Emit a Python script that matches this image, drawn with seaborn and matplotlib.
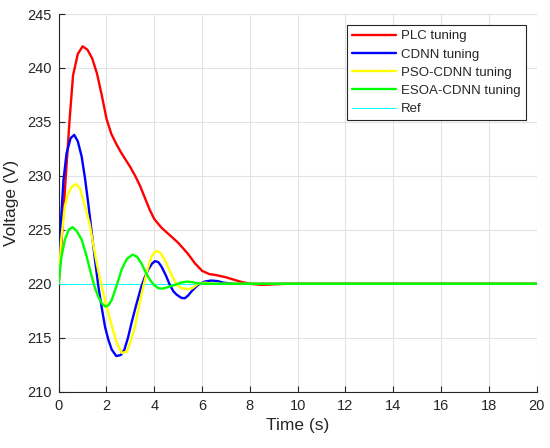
import numpy as np
import pandas as pd
import matplotlib
matplotlib.use("Agg")
import matplotlib.pyplot as plt
import seaborn as sns

# ---- data ----
t_plc = [0, 0.08, 0.15, 0.3, 0.45, 0.6, 0.8, 1.0, 1.2, 1.4, 1.6, 1.8, 2.0, 2.2, 2.4, 2.6,
         2.8, 3.0, 3.2, 3.4, 3.6, 3.8, 4.0, 4.3, 4.6, 5.0, 5.4, 5.7, 6.0, 6.3, 6.6, 7.0,
         7.3, 7.6, 8.0, 8.5, 9.0, 9.5, 20]
v_plc = [220, 222.5, 225, 230, 235, 239.3, 241.3, 242.0, 241.7, 240.9, 239.5, 237.5,
         235.3, 233.9, 233.0, 232.2, 231.5, 230.8, 230.0, 229.1, 228.0, 226.9, 226.0,
         225.2, 224.6, 223.8, 222.8, 221.9, 221.2, 220.9, 220.8, 220.6, 220.4, 220.2,
         220.0, 219.9, 219.95, 220.0, 220.0]

t_cdnn = [0, 0.1, 0.2, 0.33, 0.5, 0.65, 0.8, 0.96, 1.1, 1.24, 1.38, 1.52, 1.66, 1.8,
          1.94, 2.08, 2.22, 2.41, 2.6, 2.75, 2.9, 3.05, 3.25, 3.46, 3.6, 3.74, 3.9, 4.03,
          4.17, 4.3, 4.48, 4.65, 4.8, 4.93, 5.13, 5.27, 5.41, 5.6, 5.83, 6.1, 6.38, 6.65,
          6.9, 7.3, 20]
v_cdnn = [220, 226.0, 229.6, 232.1, 233.5, 233.8, 233.2, 231.8, 229.8, 227.4, 224.8,
          222.2, 219.75, 217.8, 216.0, 214.8, 213.9, 213.3, 213.4, 213.9, 215.0, 216.4,
          218.1, 219.75, 220.6, 221.3, 221.85, 222.1, 222.0, 221.6, 220.8, 219.9, 219.3,
          219.0, 218.7, 218.65, 218.9, 219.4, 219.9, 220.2, 220.3, 220.25, 220.1, 220.0,
          220.0]

t_pso = [0, 0.1, 0.26, 0.4, 0.55, 0.73, 0.9, 1.1, 1.3, 1.45, 1.6, 1.8, 1.98, 2.15, 2.3,
         2.43, 2.64, 2.85, 3.0, 3.19, 3.35, 3.54, 3.7, 3.88, 4.0, 4.12, 4.28, 4.44, 4.6,
         4.79, 4.95, 5.14, 5.42, 5.6, 5.83, 6.1, 6.5, 20]
v_pso = [220, 224.0, 227.2, 228.4, 229.0, 229.25, 228.8, 227.2, 225.5, 223.6, 221.8,
         219.75, 218.1, 216.7, 215.5, 214.5, 213.6, 213.7, 214.6, 216.0, 217.8, 219.75,
         221.2, 222.5, 222.9, 223.05, 222.8, 222.2, 221.4, 220.5, 219.9, 219.6, 219.5,
         219.6, 220.0, 220.1, 220.0, 220.0]

t_esoa = [0, 0.1, 0.26, 0.42, 0.58, 0.75, 0.96, 1.15, 1.38, 1.52, 1.66, 1.8, 1.94, 2.08,
          2.22, 2.42, 2.63, 2.85, 3.09, 3.28, 3.46, 3.63, 3.81, 3.98, 4.16, 4.3, 4.44,
          4.65, 4.86, 5.1, 5.35, 5.6, 5.8, 6.2, 20]
v_esoa = [220, 222.3, 224.1, 225.0, 225.25, 224.9, 224.1, 222.7, 220.7, 219.6, 218.8,
          218.2, 217.9, 218.0, 218.5, 219.8, 221.3, 222.3, 222.7, 222.5, 221.9, 221.1,
          220.4, 219.9, 219.6, 219.55, 219.6, 219.75, 219.9, 220.1, 220.2, 220.15, 220.05,
          220.0, 220.0]

t_ref = [0, 20]
v_ref = [220, 220]

labels = ["PLC tuning", "CDNN tuning", "PSO-CDNN tuning", "ESOA-CDNN tuning", "Ref"]
xticks = list(range(0, 21, 2))
yticks = list(range(210, 246, 5))

# ---- plotting ----
sns.set_theme(style="whitegrid")
plt.rcParams["font.family"] = ["Liberation Sans", "DejaVu Sans"]

fig = plt.figure(figsize=(5.5, 4.48), dpi=100)
ax = fig.add_axes([0.1067, 0.1257, 0.8691, 0.8430])
ax.set_facecolor("white")

series = [
    (t_plc, v_plc, labels[0], "#ff0000", 1.7, 3),
    (t_cdnn, v_cdnn, labels[1], "#0000ff", 1.7, 3),
    (t_pso, v_pso, labels[2], "#ffff00", 1.7, 3),
    (t_esoa, v_esoa, labels[3], "#00ff00", 1.7, 3),
    (t_ref, v_ref, labels[4], "#00ffff", 0.7, 2),
]
for t, v, lab, col, lw, z in series:
    df = pd.DataFrame({"t": t, "v": v})
    sns.lineplot(data=df, x="t", y="v", ax=ax, color=col, linewidth=lw,
                 label=lab, estimator=None, sort=False, zorder=z)

ax.set_xlim(0, 20)
ax.set_ylim(210, 245)
ax.set_xticks(xticks)
ax.set_yticks(yticks)
ax.grid(True, color="#e3e3e3", linewidth=0.8)
ax.set_axisbelow(True)

for s in ["top", "right"]:
    ax.spines[s].set_visible(False)
for s in ["left", "bottom"]:
    ax.spines[s].set_visible(True)
    ax.spines[s].set_color("#262626")
    ax.spines[s].set_linewidth(0.8)

ax.tick_params(axis="both", direction="in", length=4, width=0.8, colors="#262626",
               labelsize=10.5, pad=5, left=True, bottom=True)
ax.set_xlabel("Time (s)", fontsize=12.5, color="#262626", labelpad=4)
ax.set_ylabel("Voltage (V)", fontsize=12.5, color="#262626", labelpad=6)

h, l = ax.get_legend_handles_labels()
leg = ax.legend(h, l, loc="upper right", bbox_to_anchor=(0.977, 0.971), fontsize=9.5,
                frameon=True, fancybox=False, framealpha=1, edgecolor="#262626",
                handlelength=3.3, handletextpad=0.4, labelspacing=0.45,
                borderpad=0.4, borderaxespad=0)
leg.get_frame().set_linewidth(0.8)

fig.savefig("out.png", dpi=100)
